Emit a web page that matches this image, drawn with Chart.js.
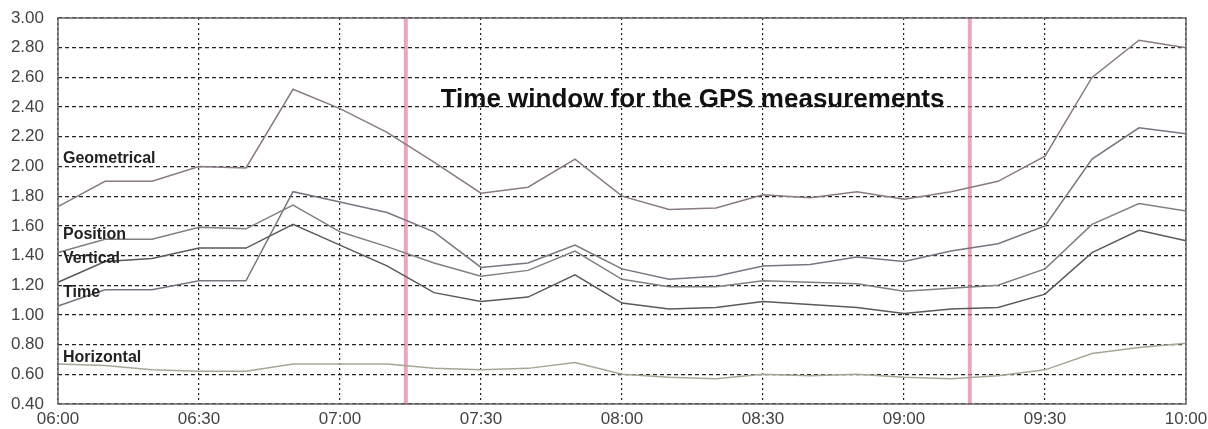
<!DOCTYPE html>
<html>
<head>
<meta charset="utf-8">
<script src="https://cdn.jsdelivr.net/npm/chart.js@4/dist/chart.umd.min.js"></script>
<style>
  html, body { margin: 0; padding: 0; background: #fff; }
  #wrap { width: 1208px; height: 429px; }
</style>
</head>
<body>
<div id="wrap"><canvas id="dop"></canvas></div>
<script>
// times every 10 minutes
var times = ["06:00","06:10","06:20","06:30","06:40","06:50","07:00","07:10","07:20","07:30",
             "07:40","07:50","08:00","08:10","08:20","08:30","08:40","08:50","09:00","09:10",
             "09:20","09:30","09:40","09:50","10:00"];

var geometrical = [1.73,1.90,1.90,2.00,1.99,2.52,2.39,2.23,2.03,1.82,1.86,2.05,1.80,1.71,1.72,1.81,1.79,1.83,1.78,1.83,1.90,2.07,2.60,2.85,2.80];
var position    = [1.42,1.51,1.51,1.59,1.58,1.74,1.56,1.46,1.35,1.26,1.30,1.43,1.24,1.19,1.19,1.23,1.22,1.21,1.16,1.18,1.20,1.31,1.61,1.75,1.70];
var vertical    = [1.22,1.36,1.38,1.45,1.45,1.61,1.47,1.33,1.15,1.09,1.12,1.27,1.08,1.04,1.05,1.09,1.07,1.05,1.01,1.04,1.05,1.14,1.42,1.57,1.50];
var timeDop     = [1.06,1.17,1.17,1.23,1.23,1.83,1.76,1.69,1.56,1.32,1.35,1.47,1.31,1.24,1.26,1.33,1.34,1.39,1.36,1.43,1.48,1.60,2.05,2.26,2.22];
var horizontal  = [0.67,0.66,0.63,0.62,0.62,0.67,0.67,0.67,0.64,0.63,0.64,0.68,0.60,0.58,0.57,0.60,0.59,0.60,0.58,0.57,0.59,0.63,0.74,0.78,0.81];

var yTicks = [0.40,0.60,0.80,1.00,1.20,1.40,1.60,1.80,2.00,2.20,2.40,2.60,2.80,3.00];

// measurement window (07:14 - 09:14)
var windowLines = ["07:14", "09:14"];

var curveLabels = [
  {text: "Geometrical", y: 2.05},
  {text: "Position",    y: 1.54},
  {text: "Vertical",    y: 1.38},
  {text: "Time",        y: 1.15},
  {text: "Horizontal",  y: 0.71}
];
var title = {text: "Time window for the GPS measurements", at: "08:15", y: 2.45};

function toIndex(t) {
  var p = t.split(":");
  return ((+p[0] - 6) * 60 + (+p[1])) / 10;
}

var extras = {
  id: "extras",
  beforeDatasetsDraw: function(chart) {
    var ctx = chart.ctx, x = chart.scales.x;
    ctx.save();
    ctx.strokeStyle = "rgba(222,120,150,0.65)";
    ctx.lineWidth = 4;
    windowLines.forEach(function(t) {
      var px = x.getPixelForValue(toIndex(t));
      ctx.beginPath();
      ctx.moveTo(px, chart.chartArea.top);
      ctx.lineTo(px, chart.chartArea.bottom);
      ctx.stroke();
    });
    ctx.restore();
  },
  afterDatasetsDraw: function(chart) {
    var ctx = chart.ctx, x = chart.scales.x, y = chart.scales.y, a = chart.chartArea;
    ctx.save();
    ctx.strokeStyle = "#666";
    ctx.lineWidth = 1.5;
    ctx.strokeRect(a.left, a.top, a.right - a.left, a.bottom - a.top);

    ctx.fillStyle = "#222";
    ctx.textBaseline = "middle";
    ctx.font = "bold 16px Arial, 'Liberation Sans', sans-serif";
    curveLabels.forEach(function(l) {
      ctx.fillText(l.text, a.left + 5, y.getPixelForValue(l.y));
    });
    ctx.font = "bold 26px Arial, 'Liberation Sans', sans-serif";
    ctx.textAlign = "center";
    ctx.fillStyle = "#111";
    ctx.fillText(title.text, x.getPixelForValue(toIndex(title.at)), y.getPixelForValue(title.y));
    ctx.restore();
  }
};

function ds(label, data, color, w) {
  return {label: label, data: data, borderColor: color, borderWidth: w || 1.5,
          pointRadius: 0, tension: 0, fill: false};
}

function noPad(s) {
  s.paddingTop = 0; s.paddingBottom = 0; s.paddingLeft = 0; s.paddingRight = 0;
}

new Chart(document.getElementById("dop"), {
  type: "line",
  data: {
    labels: times,
    datasets: [
      ds("Geometrical", geometrical, "#8a7a86"),
      ds("Position", position, "#808080"),
      ds("Vertical", vertical, "#5a5a5a"),
      ds("Time", timeDop, "#7a7480"),
      ds("Horizontal", horizontal, "#a3a896")
    ]
  },
  plugins: [extras],
  options: {
    responsive: true,
    maintainAspectRatio: false,
    animation: false,
    layout: {padding: {left: 0, right: 22, top: 18, bottom: 0}},
    plugins: {legend: {display: false}, tooltip: {enabled: false}},
    scales: {
      x: {
        offset: false,
        grid: {
          drawTicks: false,
          color: function(c) { return c.index % 3 === 0 ? "#222" : "rgba(0,0,0,0)"; },
          lineWidth: 1.2
        },
        border: {dash: [2, 3], display: false},
        ticks: {
          autoSkip: false, maxRotation: 0, padding: 5, color: "#444",
          font: {family: "Arial, 'Liberation Sans', sans-serif", size: 17},
          callback: function(v, i) { return i % 3 === 0 ? times[i] : ""; }
        },
        afterFit: function(s) { s.height = 25; noPad(s); }
      },
      y: {
        min: 0.4, max: 3.0,
        afterBuildTicks: function(s) { s.ticks = yTicks.map(function(v) { return {value: v}; }); },
        grid: {drawTicks: false, color: "#222", lineWidth: 1.2},
        border: {dash: [4, 3], display: false},
        ticks: {
          padding: 14, color: "#444",
          font: {family: "Arial, 'Liberation Sans', sans-serif", size: 17},
          callback: function(v) { return v.toFixed(2); }
        },
        afterFit: function(s) { s.width = 58; noPad(s); }
      }
    }
  }
});
</script>
</body>
</html>
